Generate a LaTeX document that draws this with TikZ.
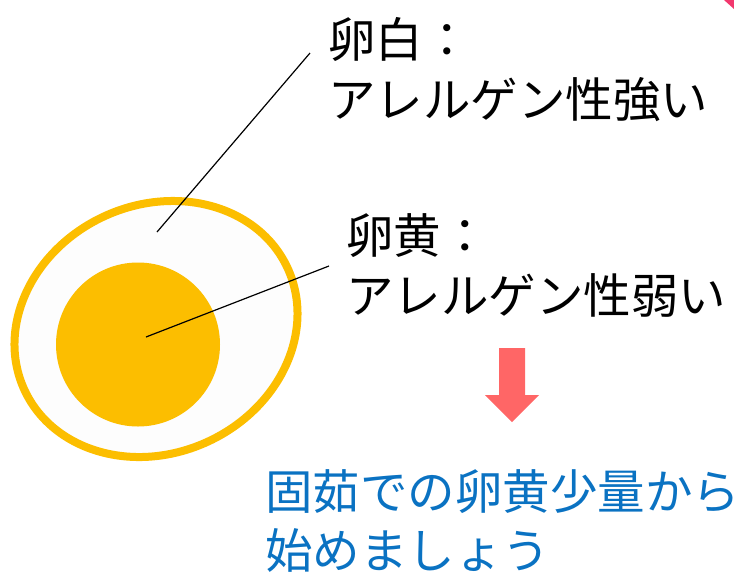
\documentclass[tikz,border=0pt]{standalone}
\usepackage{fontspec}
\setmainfont{Noto Sans CJK JP}
\begin{document}
\begin{tikzpicture}[x=1pt,y=-1pt,
  label/.style={anchor=base west,inner sep=0pt,font=\fontsize{47.5}{47.5}\selectfont},
  bluelabel/.style={label,text=textblue},
  pointer/.style={draw=black,line width=1.2pt}]
\definecolor{eggyellow}{HTML}{FCBE00}
\definecolor{eggwhite}{HTML}{FDFDFD}
\definecolor{arrowred}{HTML}{FF6666}
\definecolor{textblue}{HTML}{0A72C2}
\definecolor{cornerpink}{HTML}{F2386E}
\useasboundingbox (0,0) rectangle (734,574);

% corner mark
\fill[cornerpink] (724,0) -- (734,0) -- (734,9) -- cycle;

% egg white and yolk
\draw[draw=eggyellow,fill=eggwhite,line width=8pt,rotate around={25:(156,329)}]
  (156,329) ellipse [x radius=145, y radius=124];
\fill[eggyellow] (138,344.5) circle [radius=82];

% labels
\node[label] (w1) at (328,57) {卵白：};
\node[label] (w2) at (328,117) {アレルゲン性強い};
\node[label] (y1) at (346,253) {卵黄：};
\node[label] (y2) at (346,313) {アレルゲン性弱い};

% pointers
\coordinate (wpt) at (157,232);
\coordinate (wend) at (310,53);
\coordinate (ypt) at (146,337);
\coordinate (yend) at (329,266);
\draw[pointer] (wpt) -- (wend);
\draw[pointer] (ypt) -- (yend);

% down arrow
\fill[arrowred] (499,348) -- (525,348) -- (525,395) -- (539,395) -- (512,422)
  -- (485,395) -- (499,395) -- cycle;

% advice
\node[bluelabel] (a1) at (265,509) {固茹での卵黄少量から};
\node[bluelabel] (a2) at (265,568) {始めましょう};
\end{tikzpicture}
\end{document}
